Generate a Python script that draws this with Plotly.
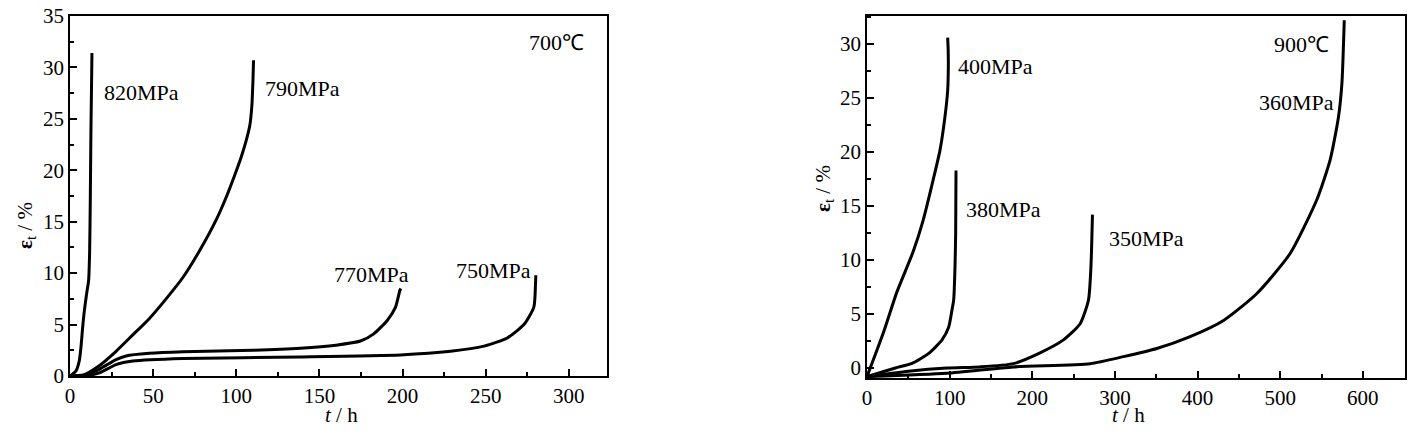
import plotly.graph_objects as go

# --- 700 C creep curves (left panel) ---
t_820 = [0, 3.6, 5.6, 6.6, 7.6, 8.6, 10, 11.2, 11.8, 12.2, 12.6, 13.2]
e_820 = [0, 0.5, 1.5, 2.8, 4.7, 6.3, 8, 9.3, 12, 17, 24, 31.4]

t_790 = [0, 8, 17.6, 27.7, 37.8, 47.8, 57.8, 68, 78, 88, 94, 99, 103, 106, 108.2, 109.4, 110, 110.4]
e_790 = [0, 0.1, 1.0, 2.4, 4.0, 5.6, 7.5, 9.6, 12.2, 15.2, 17.4, 19.5, 21.3, 22.9, 24.4, 26.3, 28.5, 30.7]

t_770 = [0, 8, 17.6, 27.7, 33.7, 47.8, 67.9, 110, 138.6, 160, 174.7, 182.7, 190.8, 195.8, 198.4, 199]
e_770 = [0, 0.05, 0.65, 1.6, 1.95, 2.2, 2.35, 2.5, 2.7, 3.0, 3.4, 4.1, 5.4, 6.7, 8.3, 8.5]

t_750 = [0, 10, 17.6, 27.7, 37.8, 67.9, 138.6, 198.8, 228.9, 249, 263, 273, 279, 280, 280.2]
e_750 = [0, 0.05, 0.3, 1.1, 1.45, 1.7, 1.85, 2.05, 2.4, 2.9, 3.7, 5.0, 6.7, 9.0, 9.8]

# --- 900 C creep curves (right panel) ---
t_400 = [0, 20, 36, 56, 68, 80, 88.4, 94.4, 97.6, 98.4, 98.2, 97.6]
e_400 = [-0.8, 3.3, 7.0, 10.8, 13.7, 17.4, 20.2, 23.3, 25.7, 27.9, 29.5, 30.6]

t_380 = [0, 34.3, 54.5, 74.7, 90.8, 98.9, 102.9, 104.9, 106.5, 107.3, 107.7]
e_380 = [-0.8, 0, 0.43, 1.35, 2.6, 3.8, 5.4, 6.3, 9.4, 12.5, 18.3]

t_350 = [0, 50, 96.5, 136.8, 177, 209.4, 237.7, 257.9, 268, 271, 272.8]
e_350 = [-0.8, -0.3, 0, 0.1, 0.4, 1.4, 2.6, 4.1, 6.3, 9.4, 14.2]

t_360 = [0, 96.5, 177, 270, 310.4, 350.7, 391, 431.4, 471.8, 512, 544.4, 560.5, 570.6, 574.7, 577.5]
e_360 = [-0.8, -0.5, 0.1, 0.4, 1.05, 1.8, 2.9, 4.4, 6.9, 10.6, 15.6, 19.3, 23.3, 26.4, 32.2]

left_series = [(t_820, e_820), (t_790, e_790), (t_770, e_770), (t_750, e_750)]
right_series = [(t_400, e_400), (t_380, e_380), (t_350, e_350), (t_360, e_360)]

# labels: (text, x, y)
left_labels = [("820MPa", 19, 27.6), ("790MPa", 116.3, 28), ("770MPa", 157.6, 9.9),
               ("750MPa", 230.8, 10.3), ("700℃", 275, 32.4)]
right_labels = [("400MPa", 107.3, 27.9), ("380MPa", 117.9, 14.7), ("350MPa", 290, 12),
                ("360MPa", 471.7, 24.6), ("900℃", 490, 30)]

FONT = "Liberation Serif"
W, H = 1419, 435


def px(x):
    return x / W


def py(y):
    return 1 - y / H


line_style = dict(color="black", width=3, shape="spline", smoothing=0.6)

fig = go.Figure()
for t, e in left_series:
    fig.add_trace(go.Scatter(x=t, y=e, mode="lines", xaxis="x", yaxis="y",
                             line=line_style, showlegend=False))
for t, e in right_series:
    fig.add_trace(go.Scatter(x=t, y=e, mode="lines", xaxis="x2", yaxis="y2",
                             line=line_style, showlegend=False))

annotations = []
for txt, x, y in left_labels:
    annotations.append(dict(text=txt, x=x, y=y, xref="x", yref="y", xanchor="left",
                            showarrow=False, font=dict(size=22, family=FONT, color="black")))
for txt, x, y in right_labels:
    annotations.append(dict(text=txt, x=x, y=y, xref="x2", yref="y2", xanchor="left",
                            showarrow=False, font=dict(size=22, family=FONT, color="black")))

# axis titles
for xc in [341, 1128]:
    annotations.append(dict(text="<i>t</i> / h", x=px(xc), y=py(415), xref="paper", yref="paper",
                            xanchor="center", yanchor="middle", showarrow=False,
                            font=dict(size=21, family=FONT, color="black")))
for xc, yc in [(26, 226), (824, 188)]:
    annotations.append(dict(text="<b>ε</b><sub>t</sub> / %", x=px(xc), y=py(yc),
                            xref="paper", yref="paper", xanchor="center", yanchor="middle",
                            textangle=-90, showarrow=False,
                            font=dict(size=21, family=FONT, color="black")))

common_axis = dict(showline=True, linecolor="black", linewidth=1.5, mirror=True,
                   ticks="inside", ticklen=7, tickwidth=1.5, tickcolor="black",
                   showgrid=False, zeroline=False, automargin=False,
                   tickfont=dict(size=21, family=FONT, color="black"))

fig.update_layout(
    width=W, height=H,
    paper_bgcolor="white", plot_bgcolor="white",
    font=dict(family=FONT, color="black", size=21),
    margin=dict(l=0, r=0, t=0, b=0),
    xaxis=dict(domain=[px(70), px(607)], range=[0, 323], anchor="y",
               dtick=50, minor=dict(dtick=25, ticks="inside", ticklen=4, tickcolor="black"),
               **common_axis),
    yaxis=dict(domain=[py(376), py(16)], range=[0, 35], anchor="x",
               dtick=5, minor=dict(dtick=2.5, ticks="inside", ticklen=4, tickcolor="black"),
               **common_axis),
    xaxis2=dict(domain=[px(867), px(1405)], range=[0, 651], anchor="y2",
                dtick=100, minor=dict(dtick=50, ticks="inside", ticklen=4, tickcolor="black"),
                **common_axis),
    yaxis2=dict(domain=[py(378), py(16)], range=[-0.93, 32.6], anchor="x2",
                dtick=5, minor=dict(dtick=2.5, ticks="inside", ticklen=4, tickcolor="black"),
                **common_axis),
    annotations=annotations,
)

# the page body has a default 8px margin; drop it so the figure sits at the window corner
fig.write_html("out.html", config={"displayModeBar": False},
               post_script="document.body.style.margin='0';")
